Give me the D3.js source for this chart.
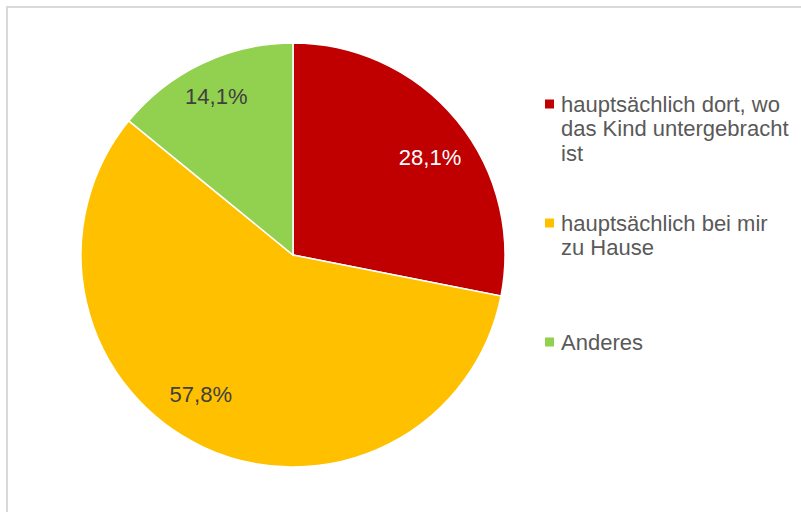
<!DOCTYPE html>
<html>
<head>
<meta charset="utf-8">
<script src="https://cdn.jsdelivr.net/npm/d3@7"></script>
<style>
  html, body { margin: 0; padding: 0; background: #fff; }
  svg { display: block; font-family: "Liberation Sans", Arial, sans-serif; }
</style>
</head>
<body>
<div id="mainDiv"></div>
<script>
'use strict';

// data
var categories = ['hauptsächlich dort, wo das Kind untergebracht ist', 'hauptsächlich bei mir zu Hause', 'Anderes'];
var legendLines = [
    ['hauptsächlich dort, wo', 'das Kind untergebracht', 'ist'],
    ['hauptsächlich bei mir', 'zu Hause'],
    ['Anderes']
];
var shares = [28.1, 57.8, 14.1];
var sliceColors = ['#c00000', '#ffc000', '#92d050'];
var labelColors = ['#ffffff', '#404040', '#404040'];

var pieChart = {};
pieChart.width = 801;
pieChart.height = 512;
pieChart.cx = 293;
pieChart.cy = 255;
pieChart.radius = 212;

// small shifts so the value labels sit where Excel put them
pieChart.labelNudge = [[6, 10], [-20, -14], [-4, -5]];
pieChart.legendCenter = [104, 223, 342];

var deLocale = d3.formatLocale({decimal: ',', thousands: '.', grouping: [3], currency: ['', ' €']});
var fmt = deLocale.format('.1f');

pieChart.start = function(){

    var svg = d3.select('#mainDiv').append('svg')
        .attr('width', pieChart.width)
        .attr('height', pieChart.height);

    // chart frame
    svg.append('rect')
        .attr('x', 7).attr('y', 7)
        .attr('width', 900).attr('height', 600)
        .attr('fill', 'none')
        .attr('stroke', '#d9d9d9')
        .attr('stroke-width', 2);

    var data = categories.map(function(c, i){ return {name: c, value: shares[i], i: i}; });

    var pie = d3.pie().sort(null).value(function(d){ return d.value; });
    var arc = d3.arc().innerRadius(0).outerRadius(pieChart.radius);
    var labelArc = d3.arc().innerRadius(pieChart.radius * 0.8).outerRadius(pieChart.radius * 0.8);

    var g = svg.append('g')
        .attr('transform', 'translate(' + pieChart.cx + ',' + pieChart.cy + ')');

    var arcs = pie(data);

    g.selectAll('path')
        .data(arcs)
        .enter().append('path')
        .attr('d', arc)
        .attr('fill', function(d){ return sliceColors[d.data.i]; })
        .attr('stroke', '#ffffff')
        .attr('stroke-width', 1.5);

    g.selectAll('text.lbl')
        .data(arcs)
        .enter().append('text')
        .attr('class', 'lbl')
        .attr('transform', function(d){
            var c = labelArc.centroid(d), n = pieChart.labelNudge[d.data.i];
            return 'translate(' + (c[0] + n[0]) + ',' + (c[1] + n[1]) + ')';
        })
        .attr('text-anchor', 'middle')
        .attr('dy', '0.35em')
        .attr('font-size', 22)
        .attr('fill', function(d){ return labelColors[d.data.i]; })
        .text(function(d){ return fmt(d.data.value) + '%'; });

    // legend
    var legend = svg.selectAll('g.legend')
        .data(data)
        .enter().append('g')
        .attr('class', 'legend')
        .attr('transform', function(d){ return 'translate(545,' + pieChart.legendCenter[d.i] + ')'; });

    legend.append('rect')
        .attr('x', 0).attr('y', -4.5)
        .attr('width', 9).attr('height', 9)
        .attr('fill', function(d){ return sliceColors[d.i]; });

    legend.append('text')
        .attr('x', 16)
        .attr('y', 0)
        .attr('font-size', 22)
        .attr('fill', '#595959')
        .selectAll('tspan')
        .data(function(d){ return legendLines[d.i]; })
        .enter().append('tspan')
        .attr('x', 16)
        .attr('dy', function(d, j){ return j === 0 ? 7.5 : 24.5; })
        .text(function(d){ return d; });
}

window.onload = pieChart.start;
</script>
</body>
</html>
